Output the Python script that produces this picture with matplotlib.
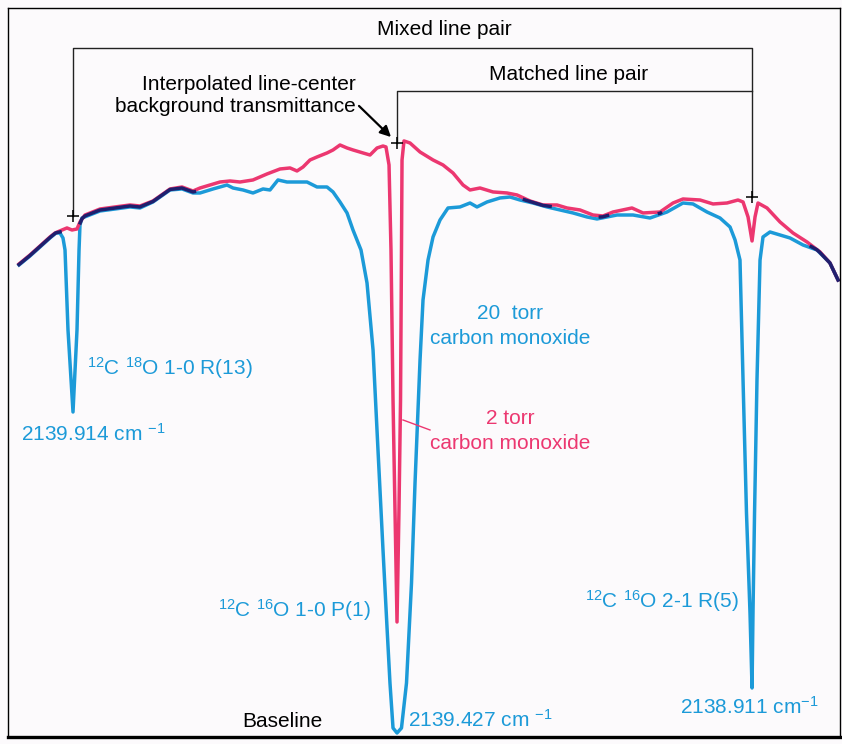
import numpy as np
import matplotlib
matplotlib.use("Agg")
import matplotlib.pyplot as plt

plt.rcParams['font.family'] = ['Liberation Sans', 'DejaVu Sans']
plt.rcParams['mathtext.fontset'] = 'custom'
plt.rcParams['mathtext.rm'] = 'Liberation Sans'
plt.rcParams['mathtext.it'] = 'Liberation Sans:italic'
plt.rcParams['mathtext.bf'] = 'Liberation Sans:bold'

# 2 torr CO cell (wavenumber cm-1, relative transmittance)
red_wn = [2139.9908, 2139.9746, 2139.9598, 2139.9451, 2139.9377, 2139.9273, 2139.9200, 2139.9126,
          2139.9052, 2139.9008, 2139.8934, 2139.8712, 2139.8491, 2139.8269, 2139.8122, 2139.7930,
          2139.7678, 2139.7501, 2139.7339, 2139.7235, 2139.7088, 2139.6940, 2139.6792, 2139.6645,
          2139.6453, 2139.6246, 2139.6054, 2139.5906, 2139.5803, 2139.5714, 2139.5611, 2139.5508,
          2139.5360, 2139.5271, 2139.5168, 2139.5064, 2139.4976, 2139.4828, 2139.4725, 2139.4621,
          2139.4533, 2139.4489, 2139.4444, 2139.4415, 2139.4385, 2139.4356, 2139.4326, 2139.4297,
          2139.4274, 2139.4260, 2139.4252, 2139.4223, 2139.4134, 2139.3986, 2139.3794, 2139.3647,
          2139.3499, 2139.3351, 2139.3248, 2139.3100, 2139.2908, 2139.2702, 2139.2554, 2139.2362,
          2139.2170, 2139.1963, 2139.1816, 2139.1624, 2139.1432, 2139.1284, 2139.1136, 2139.0856,
          2139.0693, 2139.0442, 2139.0250, 2139.0103, 2138.9851, 2138.9659, 2138.9453, 2138.9290,
          2138.9216, 2138.9142, 2138.9083, 2138.9039, 2138.8995, 2138.8862, 2138.8670, 2138.8478,
          2138.8271, 2138.8079, 2138.7932, 2138.7813]
red_T = [78.17, 79.67, 81.17, 82.67, 83.33, 83.83, 84.17, 83.83,
         84.0, 85.17, 86.33, 87.33, 87.67, 88.0, 87.83, 88.67,
         90.67, 91.0, 90.33, 90.83, 91.33, 91.83, 92.0, 91.83,
         92.17, 93.17, 94.0, 94.17, 93.67, 94.33, 95.5, 96.0,
         96.67, 97.17, 98.0, 97.5, 97.17, 96.67, 96.33, 97.5,
         97.83, 97.67, 94.67, 80.5, 55.5, 37.17, 18.5, 37.17,
         55.5, 80.5, 95.5, 98.67, 98.33, 96.83, 95.5, 94.67,
         93.33, 91.33, 90.5, 90.83, 90.17, 90.0, 89.67, 88.67,
         88.0, 88.0, 87.5, 87.17, 86.33, 86.17, 86.83, 87.5,
         86.67, 86.83, 88.33, 89.0, 88.83, 88.17, 88.33, 88.83,
         88.5, 86.0, 82.0, 86.0, 88.33, 87.5, 85.17, 83.33,
         81.83, 80.17, 78.33, 75.5]

# 20 torr CO cell
blue_wn = [2139.9908, 2139.9746, 2139.9598, 2139.9451, 2139.9362, 2139.9303, 2139.9259, 2139.9229,
           2139.9185, 2139.9111, 2139.9052, 2139.9022, 2139.9008, 2139.8978, 2139.8712, 2139.8491,
           2139.8269, 2139.8122, 2139.7930, 2139.7678, 2139.7501, 2139.7339, 2139.7235, 2139.7043,
           2139.6837, 2139.6748, 2139.6600, 2139.6453, 2139.6305, 2139.6202, 2139.6084, 2139.5951,
           2139.5803, 2139.5655, 2139.5508, 2139.5360, 2139.5271, 2139.5168, 2139.5064, 2139.4976,
           2139.4858, 2139.4769, 2139.4680, 2139.4607, 2139.4533, 2139.4474, 2139.4430, 2139.4385,
           2139.4326, 2139.4260, 2139.4186, 2139.4112, 2139.4060, 2139.3986, 2139.3942, 2139.3868,
           2139.3794, 2139.3691, 2139.3573, 2139.3396, 2139.3248, 2139.3145, 2139.2997, 2139.2805,
           2139.2657, 2139.2510, 2139.2318, 2139.2111, 2139.1919, 2139.1727, 2139.1520, 2139.1373,
           2139.1225, 2139.1077, 2139.0841, 2139.0590, 2139.0339, 2139.0103, 2138.9955, 2138.9748,
           2138.9556, 2138.9408, 2138.9334, 2138.9261, 2138.9216, 2138.9165, 2138.9113, 2138.9083,
           2138.9069, 2138.9046, 2138.9010, 2138.8965, 2138.8921, 2138.8818, 2138.8670, 2138.8522,
           2138.8330, 2138.8124, 2138.7932, 2138.7813]
blue_T = [78.0, 79.5, 81.0, 82.5, 83.33, 83.33, 82.5, 80.5,
          67.17, 53.5, 67.17, 80.5, 84.67, 85.83, 87.0, 87.33,
          87.67, 87.5, 88.5, 90.5, 90.67, 90.0, 90.0, 90.67,
          91.33, 90.83, 90.5, 90.0, 90.67, 90.5, 92.17, 91.83,
          91.83, 91.83, 91.0, 91.0, 90.17, 88.5, 86.67, 83.83,
          80.5, 75.0, 63.83, 47.17, 30.5, 17.67, 8.33, 0.83,
          0.0, 0.83, 8.33, 25.0, 41.67, 62.17, 72.17, 78.83,
          82.67, 85.5, 87.5, 87.67, 88.33, 87.67, 88.5, 89.17,
          89.33, 88.83, 88.33, 87.67, 87.17, 86.67, 86.0, 85.67,
          86.0, 86.33, 86.33, 85.83, 86.83, 88.33, 88.17, 86.83,
          85.83, 84.33, 82.17, 78.83, 58.83, 36.67, 20.0, 7.5,
          20.0, 36.67, 58.83, 78.83, 82.67, 83.5, 83.0, 82.5,
          81.33, 80.5, 78.33, 75.5]

# line centres and interpolated background transmittance (+ marks)
center_wn = [2139.9111, 2139.4326, 2138.9083]
background_T = [86.2, 98.3, 89.3]

blue_c = '#1c9ad8'
pink_c = '#ec3770'
navy_c = '#1f1f6e'

fig = plt.figure(figsize=(8.42, 7.44), dpi=100, facecolor='#fcfafc')
ax = fig.add_axes([8 / 842, 7 / 744, 832 / 842, 729 / 744])
ax.set_facecolor('#fcfafc')
ax.set_xlim(2140.0071, 2138.7784)
ax.set_ylim(-0.67, 120.83)
ax.set_xticks([])
ax.set_yticks([])
for s in ['left', 'top', 'right']:
    ax.spines[s].set_linewidth(1.0)
ax.spines['bottom'].set_linewidth(2.4)

lw = 2.5
ax.plot(blue_wn, blue_T, color=blue_c, lw=lw, solid_joinstyle='round')
ax.plot(red_wn, red_T, color=pink_c, lw=lw, solid_joinstyle='round')

# where the two inks overlap the print shows dark navy
grid = np.linspace(min(blue_wn), max(blue_wn), 1500)
rb = np.interp(grid, blue_wn[::-1], blue_T[::-1])
rr = np.interp(grid, red_wn[::-1], red_T[::-1])
both = np.where(np.abs(rb - rr) < 0.45, (rb + rr) / 2, np.nan)
ax.plot(grid, both, color=navy_c, lw=lw)

# brackets
mixed_T = 114.17
matched_T = 107.0
ax.plot([center_wn[0], center_wn[0], center_wn[2], center_wn[2]],
        [background_T[0], mixed_T, mixed_T, background_T[2]], color='#222222', lw=1.0)
ax.plot([center_wn[1], center_wn[1], center_wn[2]],
        [background_T[1], matched_T, matched_T], color='#222222', lw=1.0)
ax.plot(center_wn, background_T, '+', color='k', ms=9, mew=1.1)

fs = 15
ax.text(2139.3632, 117.17, 'Mixed line pair', ha='center', va='center', fontsize=fs)
ax.text(2139.1786, 109.67, 'Matched line pair', ha='center', va='center', fontsize=fs)
ax.text(2139.4930, 106.3, 'Interpolated line-center\nbackground transmittance',
        ha='right', va='center', multialignment='right', fontsize=fs, linespacing=1.2)
ax.annotate('', xy=(2139.4385, 99.0), xytext=(2139.4917, 104.83),
            arrowprops=dict(arrowstyle='-|>', color='k', lw=1.6, mutation_scale=16))

ax.text(2139.8904, 59.67, r'$^{12}$C $^{18}$O 1-0 R(13)', color=blue_c, fontsize=fs, va='baseline')
ax.text(2139.9879, 48.67, r'2139.914 cm $^{-1}$', color=blue_c, fontsize=fs, va='baseline')
ax.text(2139.6970, 19.4, r'$^{12}$C $^{16}$O 1-0 P(1)', color=blue_c, fontsize=fs, va='baseline')
ax.text(2139.4164, 1.05, r'2139.427 cm $^{-1}$', color=blue_c, fontsize=fs, va='baseline')
ax.text(2139.1550, 20.83, r'$^{12}$C $^{16}$O 2-1 R(5)', color=blue_c, fontsize=fs, va='baseline')
ax.text(2139.0147, 3.17, r'2138.911 cm$^{-1}$', color=blue_c, fontsize=fs, va='baseline')
ax.text(2139.6615, 1.05, 'Baseline', color='k', fontsize=fs, va='baseline')

ax.text(2139.2657, 69.0, '20  torr', color=blue_c, fontsize=fs, ha='center', va='baseline')
ax.text(2139.2657, 64.83, 'carbon monoxide', color=blue_c, fontsize=fs, ha='center', va='baseline')
ax.text(2139.2657, 51.5, '2 torr', color=pink_c, fontsize=fs, ha='center', va='baseline')
ax.text(2139.2657, 47.33, 'carbon monoxide', color=pink_c, fontsize=fs, ha='center', va='baseline')
ax.plot([2139.4238, 2139.3839], [52.17, 50.5], color=pink_c, lw=1.0)

fig.savefig('out.png', dpi=100, facecolor=fig.get_facecolor())
